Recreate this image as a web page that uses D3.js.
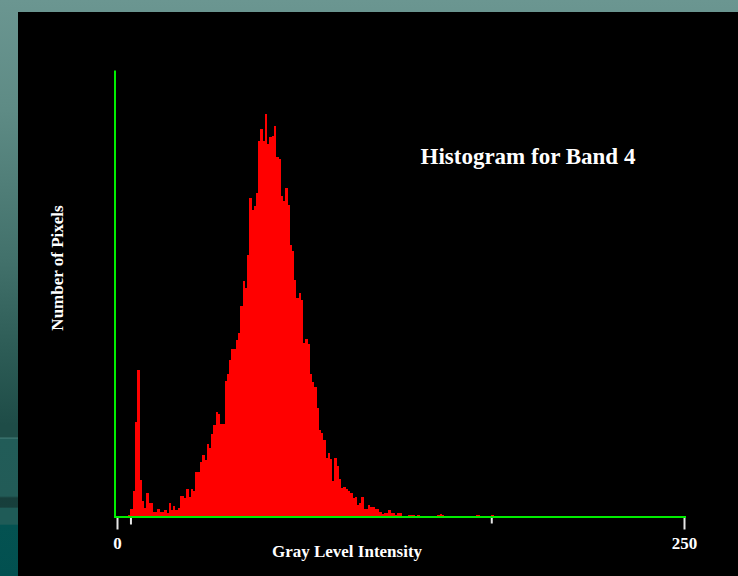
<!DOCTYPE html>
<html>
<head>
<meta charset="utf-8">
<script src="https://cdn.jsdelivr.net/npm/d3@7"></script>
<style>
  body { margin: 0; background: #000; }
  svg { display: block; }
</style>
</head>
<body>
<div id="chart"></div>
<script>
// pixel count per gray level, index = gray level
const counts = [
  0, 0, 0, 0, 0, 1, 7, 25, 94, 146,
  36, 15, 8, 23, 13, 13, 4, 4, 7, 4,
  4, 6, 3, 13, 6, 10, 6, 8, 20, 20,
  18, 27, 19, 27, 25, 44, 44, 54, 61, 56,
  72, 68, 82, 91, 104, 102, 92, 92, 135, 142,
  156, 167, 167, 176, 183, 210, 235, 228, 261, 318,
  306, 310, 323, 375, 387, 375, 402, 372, 379, 380,
  390, 359, 357, 320, 315, 328, 311, 271, 265, 236,
  218, 223, 216, 173, 177, 172, 142, 134, 129, 108,
  86, 83, 76, 58, 63, 57, 35, 58, 50, 37,
  28, 29, 27, 25, 23, 18, 19, 11, 13, 19,
  7, 7, 11, 9, 9, 7, 7, 4, 2, 3,
  3, 6, 3, 3, 1, 3, 3, 0, 0, 0,
  1, 1, 1, 0, 1, 0, 0, 0, 0, 0,
  0, 0, 0, 1, 2, 1, 0, 0, 0, 0,
  0, 0, 0, 0, 0, 0, 0, 0, 0, 0,
  1, 1, 0, 0, 0, 0, 0, 1
]

const title = 'Histogram for Band 4'
const xLabel = 'Gray Level Intensity'
const yLabel = 'Number of Pixels'

const xDomain = [0, 253]
const yMax = 446
const tickValues = [0, 6, 167, 253]
const tickLabels = ['0', '', '', '250']
const tickLengths = [13, 8, 7, 13]

const WIDTH = 738
const HEIGHT = 576
const FONT = "'Liberation Serif', 'Times New Roman', serif"

const svg = d3.select('#chart')
  .append('svg')
  .attr('width', WIDTH)
  .attr('height', HEIGHT)

// slide background (teal strip on the left/top)
const grad = svg.append('defs')
  .append('linearGradient')
  .attr('id', 'bg')
  .attr('gradientUnits', 'userSpaceOnUse')
  .attr('x1', 0).attr('y1', 0)
  .attr('x2', 0).attr('y2', HEIGHT)

const stops = [
  [0, '#6b9691'], [110, '#5e8b85'], [260, '#42716b'], [345, '#2e5d57'],
  [425, '#1e4c47'], [437, '#1e4c47'], [438, '#407873'], [439.5, '#225c58'],
  [496, '#225b57'], [498, '#173e3b'], [507, '#173f3c'], [508.5, '#1f5b57'],
  [524, '#1f5b57'], [525.5, '#045251'], [576, '#025050']
]
grad.selectAll('stop')
  .data(stops)
  .enter()
  .append('stop')
  .attr('offset', d => d[0] / HEIGHT)
  .attr('stop-color', d => d[1])

svg.append('rect')
  .attr('width', WIDTH)
  .attr('height', HEIGHT)
  .attr('fill', 'url(#bg)')

svg.append('rect')
  .attr('x', 18)
  .attr('y', 12)
  .attr('width', WIDTH - 18)
  .attr('height', HEIGHT - 12)
  .attr('fill', '#000')

// scales
const x = d3.scaleLinear().domain(xDomain).range([117, 684])
const y = d3.scaleLinear().domain([0, yMax]).range([516, 70])

// bars
svg.append('g')
  .selectAll('rect')
  .data(counts)
  .enter()
  .append('rect')
  .attr('x', (d, i) => x(i))
  .attr('width', (d, i) => x(i + 1) - x(i) + 0.2)
  .attr('y', d => y(d))
  .attr('height', d => y(0) - y(d))
  .attr('fill', '#ff0000')
  .attr('shape-rendering', 'crispEdges')

// y axis (line only)
const yAxis = svg.append('g')
  .attr('transform', 'translate(114.5,0)')
  .call(d3.axisLeft(y).tickValues([]).tickSizeOuter(0))
yAxis.select('.domain')
  .attr('stroke', '#00ee00')
  .attr('stroke-width', 2)

// x axis
const xAxis = svg.append('g')
  .attr('transform', 'translate(0,516.5)')
  .call(d3.axisBottom(x)
    .tickValues(tickValues)
    .tickSize(12)
    .tickSizeOuter(0)
    .tickFormat((d, i) => tickLabels[i])
  )
xAxis.select('.domain').remove()
xAxis.selectAll('.tick line')
  .attr('stroke', '#e6e6e6')
  .attr('stroke-width', 2)
  .attr('y2', (d, i) => tickLengths[i])
xAxis.selectAll('.tick text')
  .attr('y', 32.5)
  .attr('dy', null)
  .attr('fill', '#fff')
  .style('font-family', FONT)
  .style('font-weight', 'bold')
  .style('font-size', '17px')

svg.append('line')
  .attr('x1', x(xDomain[0]) - 3)
  .attr('x2', x(xDomain[1]) + 2)
  .attr('y1', y(0) + 1)
  .attr('y2', y(0) + 1)
  .attr('stroke', '#00ee00')
  .attr('stroke-width', 2)

// texts
svg.append('text')
  .attr('x', 420.5)
  .attr('y', 163.5)
  .attr('fill', '#fff')
  .style('font-family', FONT)
  .style('font-weight', 'bold')
  .style('font-size', '23px')
  .text(title)

svg.append('text')
  .attr('x', 347)
  .attr('y', 557)
  .attr('text-anchor', 'middle')
  .attr('fill', '#fff')
  .style('font-family', FONT)
  .style('font-weight', 'bold')
  .style('font-size', '17px')
  .text(xLabel)

svg.append('text')
  .attr('transform', 'translate(63,268) rotate(-90)')
  .attr('text-anchor', 'middle')
  .attr('fill', '#fff')
  .style('font-family', FONT)
  .style('font-weight', 'bold')
  .style('font-size', '17px')
  .text(yLabel)
</script>
</body>
</html>
